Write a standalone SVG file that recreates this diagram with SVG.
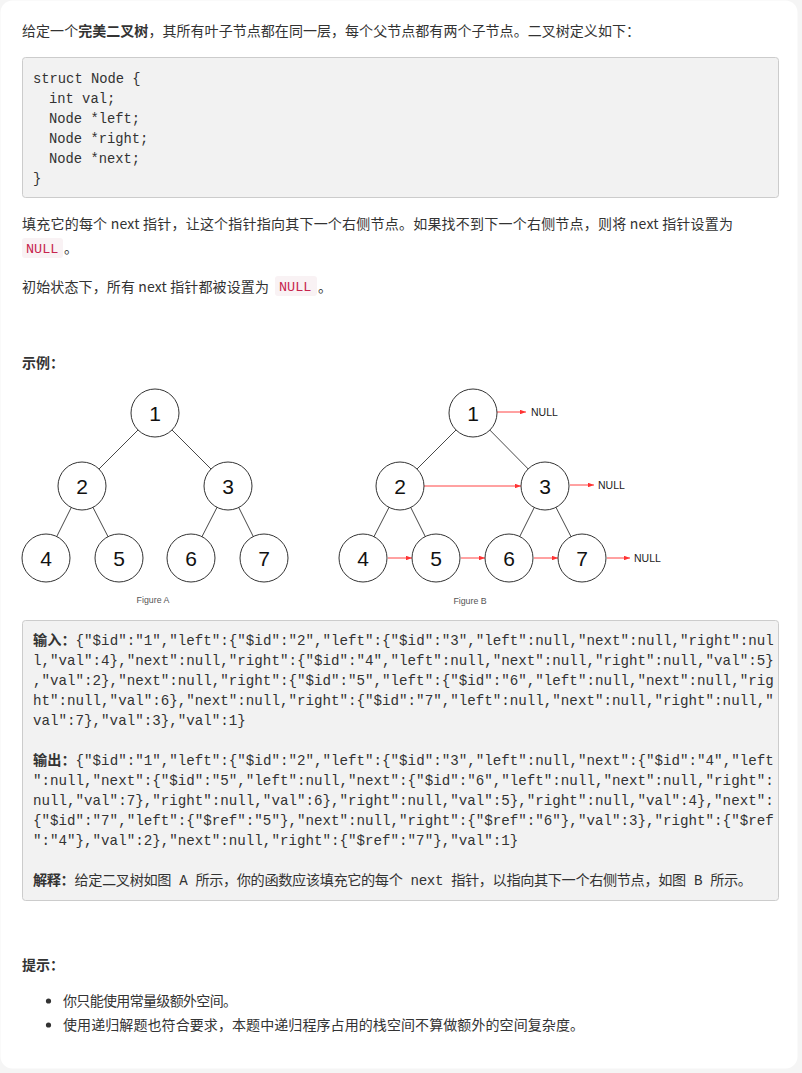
<svg xmlns="http://www.w3.org/2000/svg" width="802" height="1073" viewBox="0 0 802 1073">
<defs>
<style>
.body{font-family:"Noto Sans CJK SC","Liberation Sans",sans-serif;font-size:14px;fill:#333}
.b{font-weight:bold}
.mono{font-family:"Liberation Mono","Noto Sans CJK SC",monospace;font-size:14.2px;fill:#333}
.code{font-family:"Liberation Mono",monospace;font-size:13.8px;fill:#333}
.null{font-family:"Liberation Mono",monospace;font-size:13.5px;fill:#c7254e}
.nc{fill:#fff;stroke:#333;stroke-width:1}
.nt{font-family:"Liberation Sans",Arial,sans-serif;font-size:21px;fill:#111;text-anchor:middle}
.edge{stroke:#333;stroke-width:0.9;fill:none}
.nx{stroke:#f44;stroke-width:1;fill:none;marker-end:url(#ah)}
.nl{font-family:"Liberation Sans",Arial,sans-serif;font-size:10.5px;fill:#222}
.cap{font-family:"Liberation Sans",Arial,sans-serif;font-size:8.8px;fill:#555;text-anchor:middle}
</style>
<marker id="ah" viewBox="0 0 8 6" refX="8" refY="3" markerWidth="6" markerHeight="4.5" markerUnits="userSpaceOnUse" orient="auto">
<path d="M0,0 L8,3 L0,6 z" fill="#f33"/>
</marker>
</defs>
<rect x="0" y="0" width="802" height="1073" fill="#f5f5f5"/>
<rect x="0.5" y="0.5" width="797" height="1068" rx="12" fill="#fff"/>

<text class="body" x="22" y="36" textLength="618" lengthAdjust="spacing">给定一个<tspan class="b">完美二叉树</tspan>，其所有叶子节点都在同一层，每个父节点都有两个子节点。二叉树定义如下：</text>

<g id="codeblock">
<rect x="22.5" y="57.5" width="756" height="140" rx="3" fill="#f2f2f2" stroke="#ccc"/>
<text class="code" x="33" y="83">struct Node {</text>
<text class="code" x="49" y="103">int val;</text>
<text class="code" x="49" y="123">Node *left;</text>
<text class="code" x="49" y="143">Node *right;</text>
<text class="code" x="49" y="163">Node *next;</text>
<text class="code" x="33" y="183">}</text>
</g>

<text class="body" x="22" y="229" textLength="711" lengthAdjust="spacing">填充它的每个 next 指针，让这个指针指向其下一个右侧节点。如果找不到下一个右侧节点，则将 next 指针设置为</text>
<rect x="22" y="238" width="41" height="20" rx="3" fill="#f9f2f4"/>
<text class="null" x="26" y="253">NULL</text>
<text class="body" x="64" y="253">。</text>

<text class="body" x="22" y="292" textLength="247" lengthAdjust="spacing">初始状态下，所有 next 指针都被设置为</text>
<rect x="275" y="276" width="42" height="20" rx="3" fill="#f9f2f4"/>
<text class="null" x="279" y="291">NULL</text>
<text class="body" x="318" y="292">。</text>

<text class="body b" x="22" y="368">示例：</text>

<g id="connectors">
<line class="edge" x1="155" y1="413" x2="82" y2="486"/>
<line class="edge" x1="155" y1="413" x2="228" y2="486"/>
<line class="edge" x1="82" y1="486" x2="46" y2="558"/>
<line class="edge" x1="82" y1="486" x2="119" y2="558"/>
<line class="edge" x1="228" y1="486" x2="191" y2="558"/>
<line class="edge" x1="228" y1="486" x2="264" y2="558"/>
<line class="edge" x1="473" y1="413" x2="400" y2="486"/>
<line class="edge" x1="473" y1="413" x2="545" y2="486"/>
<line class="edge" x1="400" y1="486" x2="363" y2="558"/>
<line class="edge" x1="400" y1="486" x2="436" y2="558"/>
<line class="edge" x1="545" y1="486" x2="509" y2="558"/>
<line class="edge" x1="545" y1="486" x2="582" y2="558"/>
<line class="nx" x1="497" y1="412" x2="526" y2="412"/>
<line class="nx" x1="424" y1="486" x2="521" y2="486"/>
<line class="nx" x1="570" y1="485" x2="594" y2="485"/>
<line class="nx" x1="388" y1="558" x2="412" y2="558"/>
<line class="nx" x1="461" y1="558" x2="485" y2="558"/>
<line class="nx" x1="534" y1="558" x2="558" y2="558"/>
<line class="nx" x1="607" y1="558" x2="630" y2="558"/>
</g>

<g id="a1"><circle class="nc" cx="155" cy="413" r="24"/><text class="nt" x="155" y="420.5">1</text></g>
<g id="a2"><circle class="nc" cx="82" cy="486" r="24"/><text class="nt" x="82" y="493.5">2</text></g>
<g id="a3"><circle class="nc" cx="228" cy="486" r="24"/><text class="nt" x="228" y="493.5">3</text></g>
<g id="a4"><circle class="nc" cx="46" cy="558" r="24"/><text class="nt" x="46" y="565.5">4</text></g>
<g id="a5"><circle class="nc" cx="119" cy="558" r="24"/><text class="nt" x="119" y="565.5">5</text></g>
<g id="a6"><circle class="nc" cx="191" cy="558" r="24"/><text class="nt" x="191" y="565.5">6</text></g>
<g id="a7"><circle class="nc" cx="264" cy="558" r="24"/><text class="nt" x="264" y="565.5">7</text></g>
<text class="cap" x="153" y="603">Figure A</text>

<g id="b1"><circle class="nc" cx="473" cy="413" r="24"/><text class="nt" x="473" y="420.5">1</text></g>
<g id="b2"><circle class="nc" cx="400" cy="486" r="24"/><text class="nt" x="400" y="493.5">2</text></g>
<g id="b3"><circle class="nc" cx="545" cy="486" r="24"/><text class="nt" x="545" y="493.5">3</text></g>
<g id="b4"><circle class="nc" cx="363" cy="558" r="24"/><text class="nt" x="363" y="565.5">4</text></g>
<g id="b5"><circle class="nc" cx="436" cy="558" r="24"/><text class="nt" x="436" y="565.5">5</text></g>
<g id="b6"><circle class="nc" cx="509" cy="558" r="24"/><text class="nt" x="509" y="565.5">6</text></g>
<g id="b7"><circle class="nc" cx="582" cy="558" r="24"/><text class="nt" x="582" y="565.5">7</text></g>
<g id="null1"><text class="nl" x="531" y="416">NULL</text></g>
<g id="null2"><text class="nl" x="598" y="489">NULL</text></g>
<g id="null3"><text class="nl" x="634" y="562">NULL</text></g>
<text class="cap" x="470" y="604">Figure B</text>

<g id="ioblock">
<rect x="22.5" y="620.5" width="756" height="280" rx="3" fill="#f2f2f2" stroke="#ccc"/>
<text class="mono" x="33" y="645"><tspan class="b">输入：</tspan>{"$id":"1","left":{"$id":"2","left":{"$id":"3","left":null,"next":null,"right":nul</text>
<text class="mono" x="33" y="665">l,"val":4},"next":null,"right":{"$id":"4","left":null,"next":null,"right":null,"val":5}</text>
<text class="mono" x="33" y="685">,"val":2},"next":null,"right":{"$id":"5","left":{"$id":"6","left":null,"next":null,"rig</text>
<text class="mono" x="33" y="705">ht":null,"val":6},"next":null,"right":{"$id":"7","left":null,"next":null,"right":null,"</text>
<text class="mono" x="33" y="725">val":7},"val":3},"val":1}</text>
<text class="mono" x="33" y="765"><tspan class="b">输出：</tspan>{"$id":"1","left":{"$id":"2","left":{"$id":"3","left":null,"next":{"$id":"4","left</text>
<text class="mono" x="33" y="785">":null,"next":{"$id":"5","left":null,"next":{"$id":"6","left":null,"next":null,"right":</text>
<text class="mono" x="33" y="805">null,"val":7},"right":null,"val":6},"right":null,"val":5},"right":null,"val":4},"next":</text>
<text class="mono" x="33" y="825">{"$id":"7","left":{"$ref":"5"},"next":null,"right":{"$ref":"6"},"val":3},"right":{"$ref</text>
<text class="mono" x="33" y="845">":"4"},"val":2},"next":null,"right":{"$ref":"7"},"val":1}</text>
<text class="mono" x="33" y="885" textLength="719" lengthAdjust="spacing"><tspan class="b">解释：</tspan>给定二叉树如图 A 所示，你的函数应该填充它的每个 next 指针，以指向其下一个右侧节点，如图 B 所示。</text>
</g>

<text class="body b" x="22" y="970">提示：</text>
<circle cx="48.5" cy="1001" r="2.6" fill="#333"/>
<text class="body" x="63" y="1006" textLength="174" lengthAdjust="spacing">你只能使用常量级额外空间。</text>
<circle cx="48.5" cy="1025" r="2.6" fill="#333"/>
<text class="body" x="63" y="1030" textLength="521" lengthAdjust="spacing">使用递归解题也符合要求，本题中递归程序占用的栈空间不算做额外的空间复杂度。</text>
</svg>
